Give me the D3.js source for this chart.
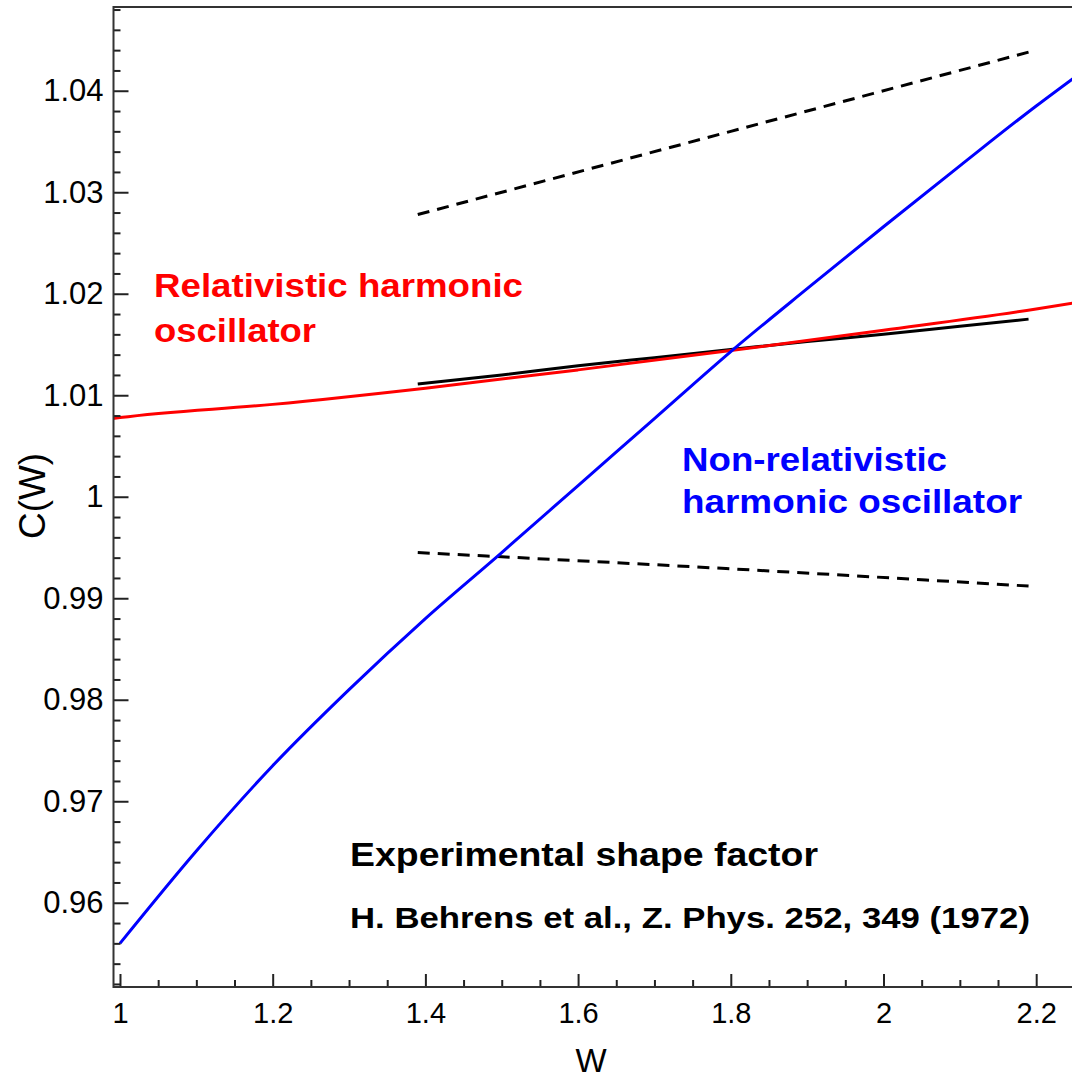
<!DOCTYPE html>
<html>
<head>
<meta charset="utf-8">
<script src="https://cdn.jsdelivr.net/npm/d3@7"></script>
<style>
  body { margin: 0; background: #fff; }
  svg { display: block; font-family: "Liberation Sans", Arial, sans-serif; }
</style>
</head>
<body>
<div id="container"></div>
<script>
/* DATA */
const relW   = [0.99, 1.0, 1.2, 1.4, 1.6, 1.8, 2.0, 2.2, 2.25]
const relC   = [1.0077, 1.0078, 1.0091, 1.0107, 1.0125, 1.0144, 1.0164, 1.0185, 1.0191]

const nonW   = [1.0, 1.1, 1.2, 1.3, 1.4, 1.5, 1.6, 1.7, 1.8, 1.9, 2.0, 2.1, 2.2, 2.25]
const nonC   = [0.956, 0.9651, 0.9735, 0.9810, 0.9880, 0.9945, 1.0011, 1.0077, 1.0143, 1.0205, 1.0266, 1.0326, 1.0385, 1.0413]

const expW   = [1.39, 1.5, 1.6, 1.7, 1.8, 1.9, 2.0, 2.1, 2.19]
const expC   = [1.0111, 1.0120, 1.0129, 1.0137, 1.0145, 1.0153, 1.0160, 1.0168, 1.0175]
const upperW = [1.39, 1.8, 2.19]
const upperC = [1.0278, 1.0360, 1.0438]
const lowerW = [1.39, 1.8, 2.19]
const lowerC = [0.9945, 0.9929, 0.9912]

const xTicks = [1, 1.2, 1.4, 1.6, 1.8, 2, 2.2]
const yTicks = [0.96, 0.97, 0.98, 0.99, 1, 1.01, 1.02, 1.03, 1.04]

/* CONSTANTS */
const W = 1072, H = 1078
const plotL = 113.5, plotR = 1072, plotT = 7, plotB = 987

const svg = d3.select("#container").append("svg")
  .attr("width", W).attr("height", H)

const xScale = d3.scaleLinear().domain([0.9915, 2.2469]).range([plotL, plotR])
const yScale = d3.scaleLinear().domain([0.9517, 1.04825]).range([plotB, plotT])

svg.append("clipPath").attr("id", "plot")
  .append("rect").attr("x", plotL).attr("y", plotT)
  .attr("width", plotR - plotL).attr("height", plotB - plotT)

const zip = (xs, ys) => xs.map((x, i) => [x, ys[i]])
const line = d3.line().x(d => xScale(d[0])).y(d => yScale(d[1])).curve(d3.curveMonotoneX)

const curves = svg.append("g").attr("clip-path", "url(#plot)")

curves.append("path").datum(zip(upperW, upperC))
  .attr("d", line).attr("fill", "none").attr("stroke", "#000")
  .attr("stroke-width", 3).attr("stroke-dasharray", "12,8")
curves.append("path").datum(zip(lowerW, lowerC))
  .attr("d", line).attr("fill", "none").attr("stroke", "#000")
  .attr("stroke-width", 3).attr("stroke-dasharray", "12,8")
curves.append("path").datum(zip(expW, expC))
  .attr("d", line).attr("fill", "none").attr("stroke", "#000").attr("stroke-width", 3)
curves.append("path").datum(zip(relW, relC))
  .attr("d", line).attr("fill", "none").attr("stroke", "#ff0000").attr("stroke-width", 3)
curves.append("path").datum(zip(nonW, nonC))
  .attr("d", line).attr("fill", "none").attr("stroke", "#0000ff").attr("stroke-width", 3)

// axes (ticks point inward)
const minorX = d3.range(1, 2.2501, 0.05).filter(v => !xTicks.some(t => Math.abs(t - v) < 1e-6))
const minorY = d3.range(0.952, 1.0481, 0.002).filter(v => !yTicks.some(t => Math.abs(t - v) < 1e-6))

const xAxis = svg.append("g").attr("transform", `translate(0,${plotB})`)
xAxis.call(d3.axisBottom(xScale).tickValues(xTicks).tickSize(-13).tickPadding(15)
  .tickFormat(d => d3.format("~g")(d)))
const xMinor = svg.append("g").attr("transform", `translate(0,${plotB})`)
xMinor.call(d3.axisBottom(xScale).tickValues(minorX).tickSize(-7).tickFormat(""))

const yAxis = svg.append("g").attr("transform", `translate(${plotL},0)`)
yAxis.call(d3.axisLeft(yScale).tickValues(yTicks).tickSize(-15).tickPadding(10)
  .tickFormat(d => d3.format("~g")(d)))
const yMinor = svg.append("g").attr("transform", `translate(${plotL},0)`)
yMinor.call(d3.axisLeft(yScale).tickValues(minorY).tickSize(-7).tickFormat(""))

svg.selectAll(".domain").remove()
svg.selectAll(".tick line").attr("stroke", "#222").attr("stroke-width", 2)
xAxis.selectAll("text").attr("font-size", 29).attr("fill", "#000")
  .attr("font-family", "Liberation Sans, Arial, sans-serif")
yAxis.selectAll("text").attr("font-size", 31).attr("fill", "#000")
  .attr("font-family", "Liberation Sans, Arial, sans-serif")

// frame
svg.append("path")
  .attr("d", `M${plotR},${plotT}H${plotL}V${plotB}H${plotR}`)
  .attr("fill", "none").attr("stroke", "#333").attr("stroke-width", 2)

// axis titles
svg.append("text").attr("x", 591).attr("y", 1072)
  .attr("text-anchor", "middle").attr("font-size", 33).text("W")
svg.append("text").attr("transform", "translate(45,496) rotate(-90)")
  .attr("text-anchor", "middle").attr("font-size", 36)
  .attr("textLength", 86).attr("lengthAdjust", "spacingAndGlyphs").text("C(W)")

// annotations
const note = (x, y, txt, color, size, len, family) => svg.append("text")
  .attr("x", x).attr("y", y).attr("fill", color).attr("font-size", size)
  .attr("font-weight", "bold").attr("font-family", family)
  .attr("textLength", len).attr("lengthAdjust", "spacingAndGlyphs").text(txt)

const sans = "Liberation Sans, Arial, sans-serif"
const narrow = "Liberation Sans Narrow, Arial Narrow, Liberation Sans, sans-serif"
note(154, 297, "Relativistic harmonic", "#ff0000", 33, 369, sans)
note(154, 342, "oscillator", "#ff0000", 33, 162, sans)
note(682, 471, "Non-relativistic", "#0000ff", 33, 265, sans)
note(682, 513, "harmonic oscillator", "#0000ff", 33, 340, sans)
note(350, 866, "Experimental shape factor", "#000", 34, 468, narrow)
note(350, 928, "H. Behrens et al., Z. Phys. 252, 349 (1972)", "#000", 30, 680, narrow)
</script>
</body>
</html>
